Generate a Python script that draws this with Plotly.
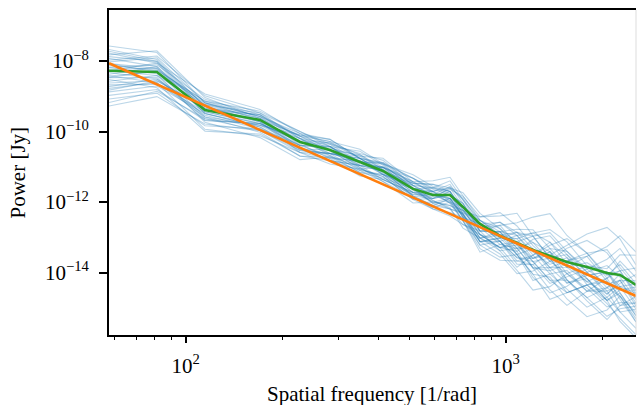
import plotly.graph_objects as go

# Spatial frequency bins [1/rad]
k = [57.6, 81.3, 114.9, 170.7, 227.6, 282.4, 350.4, 413.7, 513.3, 592.7, 669.9,
     735.4, 831.4, 959.8, 1084.7, 1217, 1375, 1554, 1795, 2073, 2276, 2554]

# Mean power (green) [Jy]
mean_power = [5.3e-9, 4.9e-9, 4.1e-10, 2.13e-10, 5.07e-11, 3.01e-11, 1.38e-11, 7.66e-12,
              2.37e-12, 1.6e-12, 1.6e-12, 7.31e-13, 2.41e-13, 1.1e-13, 6.98e-14, 4.43e-14,
              2.99e-14, 2.02e-14, 1.46e-14, 9.86e-15, 8.67e-15, 4.5e-15]

# Power-law model (orange), end points
model_k = [57.6, 2554]
model_power = [8.6e-9, 2.19e-15]

# Individual sample spectra (blue): deviation from the mean, in hundredths of a dex
sample_dev = [
    [40, 30, 10, 5, 16, 10, -6, 12, 20, 8, -16, -24, -40, -33, 3, 39, 66, 30, -15, -51, -33, 3],
    [-20, -15, -30, -10, -10, 6, 16, 4, -10, -20, -30, -10, 20, 57, 84, 39, -6, -51, -87, -42, 3, -15],
    [70, 55, 20, 10, 24, 30, 10, -10, 0, 20, 10, -20, -50, -51, -87, -60, -15, 39, 75, 57, 12, -33],
    [-60, -40, -10, -20, -16, -20, -30, -10, 16, 30, 20, 0, -20, 30, 57, 93, 120, 75, 39, -15, -69, -105],
    [10, 20, 30, 15, 0, -10, 10, 24, 10, -16, -40, -50, -30, -15, -42, -33, -69, -87, -51, -87, -123, -141],
    [-35, -25, 5, 0, 20, 24, 36, 20, 0, -10, 0, 10, -10, -6, 12, -24, 3, 48, 93, 129, 102, 57],
    [20, 0, -20, -35, -40, -20, -10, 0, -20, -30, -10, -20, -40, -42, -15, 21, 12, -33, -69, -15, 39, 21],
    [-80, -60, -45, -25, -20, 0, 20, 10, 30, 20, 40, 20, 10, 12, -15, -51, -42, -6, -33, -78, -51, -87],
    [5, 10, 15, 20, 30, 10, -16, -24, -10, 0, -20, -40, -60, -15, 21, 48, 75, 57, 3, 12, 57, 84],
    [-15, -30, -55, -45, -30, -40, -20, -16, -30, -40, -50, -30, 0, 39, 30, 3, -33, -60, -24, 3, -33, -69],
    [30, 45, 40, 20, 10, -10, 0, 20, 40, 24, 10, -10, -20, 12, -24, -78, -105, -69, -15, 21, -6, -42],
    [-45, -20, 0, -5, -30, -24, 4, -6, -16, -4, 16, 30, 20, 66, 48, 12, -15, 3, 30, -24, -87, -51],
    [0, -10, -25, -15, 10, 20, 10, 0, 16, 10, -24, -40, -70, -69, -51, -15, 30, 66, 39, -6, 12, 48],
    [-100, -70, -40, -30, -24, -10, -24, -30, -40, -20, -10, -30, -50, -6, -33, -69, -60, -105, -141, -105, -60, -78],
    [50, 25, -5, -10, 0, 16, 24, 30, 10, 0, -10, 0, 10, 3, 12, 48, 39, -6, -42, -60, -24, 30],
    [-25, -45, -60, -40, -40, -30, -10, 10, 0, -16, -36, -60, -40, 12, 39, 57, 21, -15, 30, 75, 111, 93],
    [15, 5, 25, 10, -10, -16, -30, -20, 0, 10, 20, 24, 0, -15, -60, -42, -78, -42, -6, -33, -15, -60],
    [-50, -30, -20, -15, 20, 30, 10, 0, -20, -30, -40, -20, -30, -33, -6, -24, 12, -51, -96, -132, -87, -33],
    [25, 40, 20, 0, -20, -30, -10, 10, 20, 40, 50, 30, 10, 21, -15, 3, -33, 3, 39, 66, 21, -6],
    [-5, -20, -15, -25, -10, 10, 30, 16, 4, -24, -16, -40, -80, -24, 3, -51, -96, -123, -69, -51, -105, -123],
    [60, 35, 10, -5, 10, 0, -20, -16, -30, -10, 10, -10, -30, -33, -69, -15, 39, 12, -24, 3, -42, -15],
    [-70, -50, -30, -10, 0, 10, 0, 24, 30, 16, 0, -16, -10, 39, 21, -6, -24, 12, -51, -78, -132, -150],
    [-10, 15, 5, 15, 16, -4, -16, -30, -24, -40, -60, -50, -20, 12, -33, -87, -51, -78, -114, -69, -33, -24],
    [35, 15, -10, -20, -24, -10, 16, 36, 20, 4, -24, -10, 0, -15, -42, -24, 21, 30, -6, 39, 75, 39],
    [-30, -10, 15, 5, -6, -24, -40, -24, -10, 10, 30, 10, -20, -42, -78, -114, -87, -33, -60, -96, -78, -51],
    [10, -5, -35, -50, -50, -20, 0, 10, -4, -20, -30, -20, -40, 3, 30, 21, -15, -33, 3, -42, -60, -96],
    [-20, 5, 25, 25, 30, 16, 0, -10, 10, 20, 4, -30, -60, -60, -33, 3, -42, -87, -51, -15, 12, -24],
    [45, 60, 35, 5, -16, -30, -24, -10, -24, -36, -20, 0, -10, 30, -6, -33, -6, 21, -15, -60, -15, 12],
    [-40, -35, -5, -10, 4, 20, 20, 4, 10, 0, -10, -24, -50, -15, -51, -42, 12, -15, -42, 3, -51, -87],
    [0, 25, 45, 30, 24, 0, -10, 0, -10, -10, 20, 40, 30, 21, 3, -33, -69, -51, -87, -123, -96, -60],
    [-55, -25, 10, -5, -20, -10, 10, 20, 30, 10, -10, -30, -50, -6, 30, 39, -6, -60, -33, -69, -105, -69],
    [20, 10, -10, -15, -10, 10, -10, -24, -16, 0, 24, 20, -10, -24, -15, -51, -33, -15, 12, -6, 30, 3],
    [-15, 0, 20, 10, 16, 24, 10, -4, 0, -24, -40, -16, 10, 3, -33, -69, -123, -87, -51, -24, -60, -105],
    [55, 30, 0, 15, 10, -16, -20, 10, 16, 30, 10, -4, -30, -33, -24, 30, 57, 21, -33, -78, -42, -6],
    [-90, -55, -25, -30, -30, -10, 4, -10, -20, -10, 0, 10, -20, 12, 21, -15, -51, -24, -69, -42, -15, -51],
]

x_tick_vals = [100, 1000]
x_tick_text = ["10<sup>2</sup>", "10<sup>3</sup>"]
x_minor_vals = [60, 70, 80, 90, 200, 300, 400, 500, 600, 700, 800, 900, 2000]
y_tick_vals = [1e-14, 1e-12, 1e-10, 1e-8]
y_tick_text = ["10<sup>\u221214</sup>", "10<sup>\u221212</sup>", "10<sup>\u221210</sup>", "10<sup>\u22128</sup>"]

x_title = "Spatial frequency [1/rad]"
y_title = "Power [Jy]"

FONT = "Liberation Serif"
FS = 21

fig = go.Figure()
for dev in sample_dev:
    fig.add_trace(go.Scatter(
        x=k, y=[m * 10 ** (d / 100) for m, d in zip(mean_power, dev)],
        mode="lines", line=dict(color="rgba(31,119,180,0.3)", width=1.1),
        showlegend=False, hoverinfo="skip"))

fig.add_trace(go.Scatter(x=k, y=mean_power, mode="lines",
                         line=dict(color="#2ca02c", width=2.6), showlegend=False))
fig.add_trace(go.Scatter(x=model_k, y=model_power, mode="lines",
                         line=dict(color="#ff7f0e", width=2.6), showlegend=False))

fig.update_layout(
    width=637, height=405,
    margin=dict(l=109, r=1, t=10, b=70),
    paper_bgcolor="white", plot_bgcolor="white",
    font=dict(family=FONT, size=FS, color="black"),
    xaxis=dict(
        type="log", range=[1.7604, 3.4072],
        tickvals=x_tick_vals, ticktext=x_tick_text,
        ticks="outside", ticklen=6, tickwidth=1.5, tickcolor="black",
        minor=dict(tickvals=x_minor_vals, ticks="outside", ticklen=3.5, tickwidth=1.2,
                   tickcolor="black", showgrid=False),
        showgrid=False, zeroline=False,
        showline=True, linecolor="black", linewidth=1.8, mirror=True,
        tickfont=dict(family=FONT, size=FS),
        ticklabelstandoff=5,
    ),
    yaxis=dict(
        type="log", range=[-15.765, -6.555],
        tickvals=y_tick_vals, ticktext=y_tick_text,
        ticks="outside", ticklen=8, tickwidth=1.5, tickcolor="black",
        showgrid=False, zeroline=False,
        showline=True, linecolor="black", linewidth=1.8,
        tickfont=dict(family=FONT, size=FS),
        ticklabelstandoff=6,
    ),
    shapes=[dict(type="line", xref="paper", yref="paper", x0=1, x1=1, y0=0, y1=1,
                 line=dict(color="#dddddd", width=1))],
    annotations=[
        dict(text=x_title, xref="paper", yref="paper", x=0.499, y=-0.182,
             xanchor="center", yanchor="middle", showarrow=False,
             font=dict(family=FONT, size=FS)),
        dict(text=y_title, xref="paper", yref="paper", x=-0.1727, y=0.5,
             xanchor="center", yanchor="middle", textangle=-90, showarrow=False,
             font=dict(family=FONT, size=FS)),
    ],
)

fig.write_html("out.html")
